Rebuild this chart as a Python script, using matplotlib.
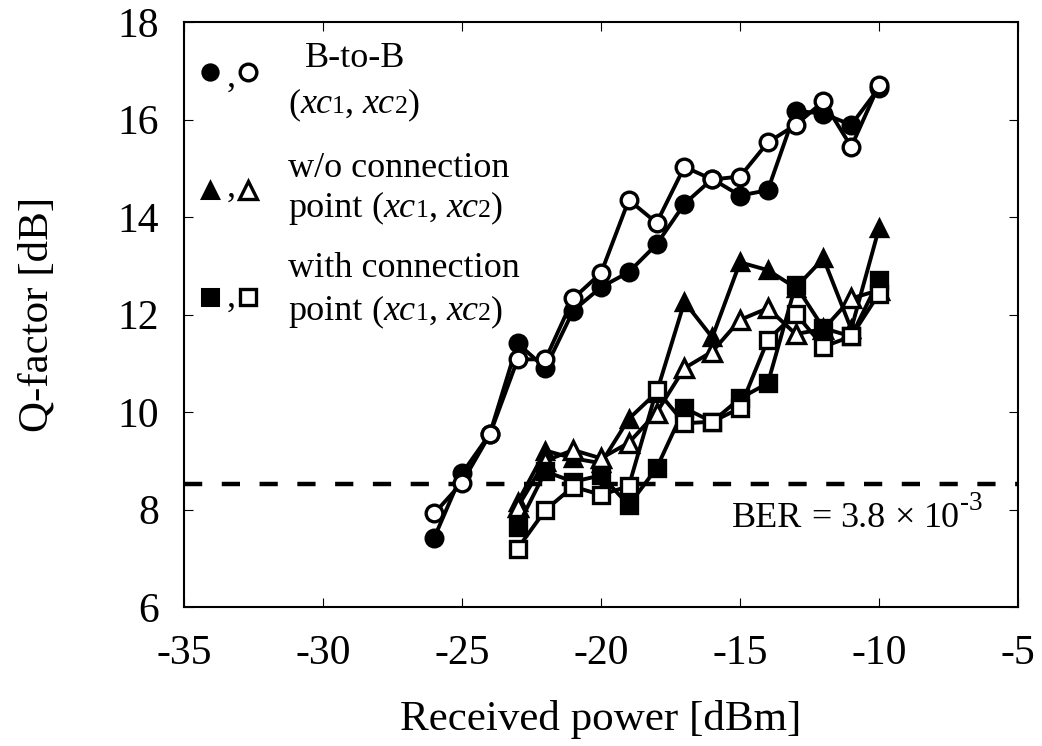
import matplotlib
matplotlib.use("Agg")
import matplotlib.pyplot as plt
from matplotlib.transforms import offset_copy

plt.rcParams["font.family"] = ["Liberation Serif", "DejaVu Serif"]
plt.rcParams["axes.unicode_minus"] = False

# ---- Data: received power (dBm) -> Q-factor (dB) ----
power_btb = [-26, -25, -24, -23, -22, -21, -20, -19, -18, -17, -16, -15, -14, -13, -12, -11, -10]
btb_xc1 = [7.42, 8.74, 9.55, 11.41, 10.90, 12.08, 12.56, 12.87, 13.44, 14.27, 14.78,
           14.44, 14.55, 16.18, 16.12, 15.89, 16.65]
btb_xc2 = [7.92, 8.55, 9.54, 11.08, 11.08, 12.33, 12.85, 14.35, 13.88, 15.03, 14.77,
           14.83, 15.53, 15.89, 16.37, 15.44, 16.71]

power_link = [-23, -22, -21, -20, -19, -18, -17, -16, -15, -14, -13, -12, -11, -10]
wo_xc1 = [8.15, 9.21, 9.05, 8.95, 9.86, 10.40, 12.26, 11.53, 13.07, 12.91, 12.55, 13.15, 11.70, 13.77]
wo_xc2 = [8.05, 9.00, 9.22, 9.05, 9.37, 9.99, 10.90, 11.24, 11.89, 12.13, 11.60, 11.70, 12.33, 12.50]
w_xc1 = [7.65, 8.78, 8.57, 8.70, 8.09, 8.85, 10.08, 9.80, 10.28, 10.59, 12.60, 11.72, 11.55, 12.71]
w_xc2 = [7.20, 7.99, 8.47, 8.30, 8.48, 10.45, 9.77, 9.80, 10.08, 11.48, 12.02, 11.34, 11.55, 12.43]

ber_q = 8.52  # Q-factor at BER = 3.8e-3

xticks = [-35, -30, -25, -20, -15, -10, -5]
yticks = [6, 8, 10, 12, 14, 16, 18]

fig = plt.figure(figsize=(10.42, 7.46), dpi=100)
ax = fig.add_axes([0.1766, 0.1863, 0.8004, 0.7842])
renderer = fig.canvas.get_renderer()

LW = 2.8
MEW = 2.4
common = dict(color="black", linewidth=LW, markeredgecolor="black", markeredgewidth=MEW)

ax.plot(power_btb, btb_xc1, marker="o", markersize=12, markerfacecolor="black", **common)
ax.plot(power_btb, btb_xc2, marker="o", markersize=12, markerfacecolor="white", **common)
ax.plot(power_link, wo_xc1, marker="^", markersize=12, markerfacecolor="black", **common)
ax.plot(power_link, wo_xc2, marker="^", markersize=13, markerfacecolor="white", **common)
ax.plot(power_link, w_xc1, marker="s", markersize=12, markerfacecolor="black", **common)
ax.plot(power_link, w_xc2, marker="s", markersize=12, markerfacecolor="white", **common)

ax.axhline(ber_q, color="black", linewidth=3.2, linestyle=(0, (4.1, 4.4)), zorder=1)

ax.set_xlim(-35, -5)
ax.set_ylim(6, 18)
ax.set_xticks(xticks)
ax.set_yticks(yticks)
ax.tick_params(direction="in", length=6.5, width=0.8, top=True, right=True, labelsize=30)
ax.tick_params(axis="x", pad=20)
ax.tick_params(axis="y", pad=18)
for sp in ax.spines.values():
    sp.set_linewidth(1.5)

ax.set_xlabel("Received power [dBm]", fontsize=31, labelpad=19)
ax.set_ylabel("Q-factor [dB]", fontsize=31, labelpad=44)


def rich_line(x, y, pieces, fs):
    """Place text pieces side by side on one baseline (axes fraction coords)."""
    dx = 0.0
    for text, style, scale, rise in pieces:
        if text == " ":
            dx += 0.25 * fs
            continue
        tr = offset_copy(ax.transAxes, fig=fig, x=dx, y=rise * fs, units="points")
        t = ax.text(x, y, text, transform=tr, fontsize=fs * scale, fontstyle=style,
                    ha="left", va="baseline")
        dx += t.get_window_extent(renderer).width * 72 / fig.dpi


# BER threshold annotation
rich_line(0.6567, 0.1373, [("BER", "normal", 1, 0), (" ", "normal", 1, 0), ("=", "normal", 1, 0),
                           (" ", "normal", 1, 0), ("3.8", "normal", 1, 0), (" ", "normal", 1, 0),
                           ("×", "normal", 1, 0), (" ", "normal", 1, 0), ("10", "normal", 1, 0),
                           ("-3", "normal", 0.75, 0.45)], 26)

# ---- Hand-built legend ----
LEG_FS = 26
xc_pair = [("(", "normal", 1, 0), ("xc", "italic", 1, 0), ("1", "normal", 0.72, 0),
           (",", "normal", 1, 0), (" ", "normal", 1, 0), ("xc", "italic", 1, 0),
           ("2", "normal", 0.72, 0), (")", "normal", 1, 0)]
point_pair = [("point", "normal", 1, 0), (" ", "normal", 1, 0)] + xc_pair

legend_markers = ["o", "^", "s"]
marker_y = [0.915, 0.713, 0.530]
comma_y = [0.889, 0.701, 0.513]
legend_lines = [
    [[("B-to-B", "normal", 1, 0)], xc_pair],
    [[("w/o connection", "normal", 1, 0)], point_pair],
    [[("with connection", "normal", 1, 0)], point_pair],
]
line_x = [(0.145, 0.1247), (0.1247, 0.1247), (0.1247, 0.1247)]
line_y = [(0.9236, 0.8444), (0.7356, 0.6672), (0.5646, 0.4906)]

for mk, my, cy, lines, xs, ys in zip(legend_markers, marker_y, comma_y, legend_lines, line_x, line_y):
    ms = 13 if mk == "^" else 12
    ax.plot([0.0312], [my], marker=mk, markersize=ms - 1, markerfacecolor="black",
            markeredgecolor="black", markeredgewidth=2.2, transform=ax.transAxes, clip_on=False)
    ax.plot([0.0771], [my], marker=mk, markersize=ms, markerfacecolor="white",
            markeredgecolor="black", markeredgewidth=2.4, transform=ax.transAxes, clip_on=False)
    ax.text(0.051, cy, ",", transform=ax.transAxes, fontsize=LEG_FS, ha="left", va="baseline")
    for pieces, lx, ly in zip(lines, xs, ys):
        rich_line(lx, ly, pieces, LEG_FS)

fig.savefig("out.png", dpi=100)
